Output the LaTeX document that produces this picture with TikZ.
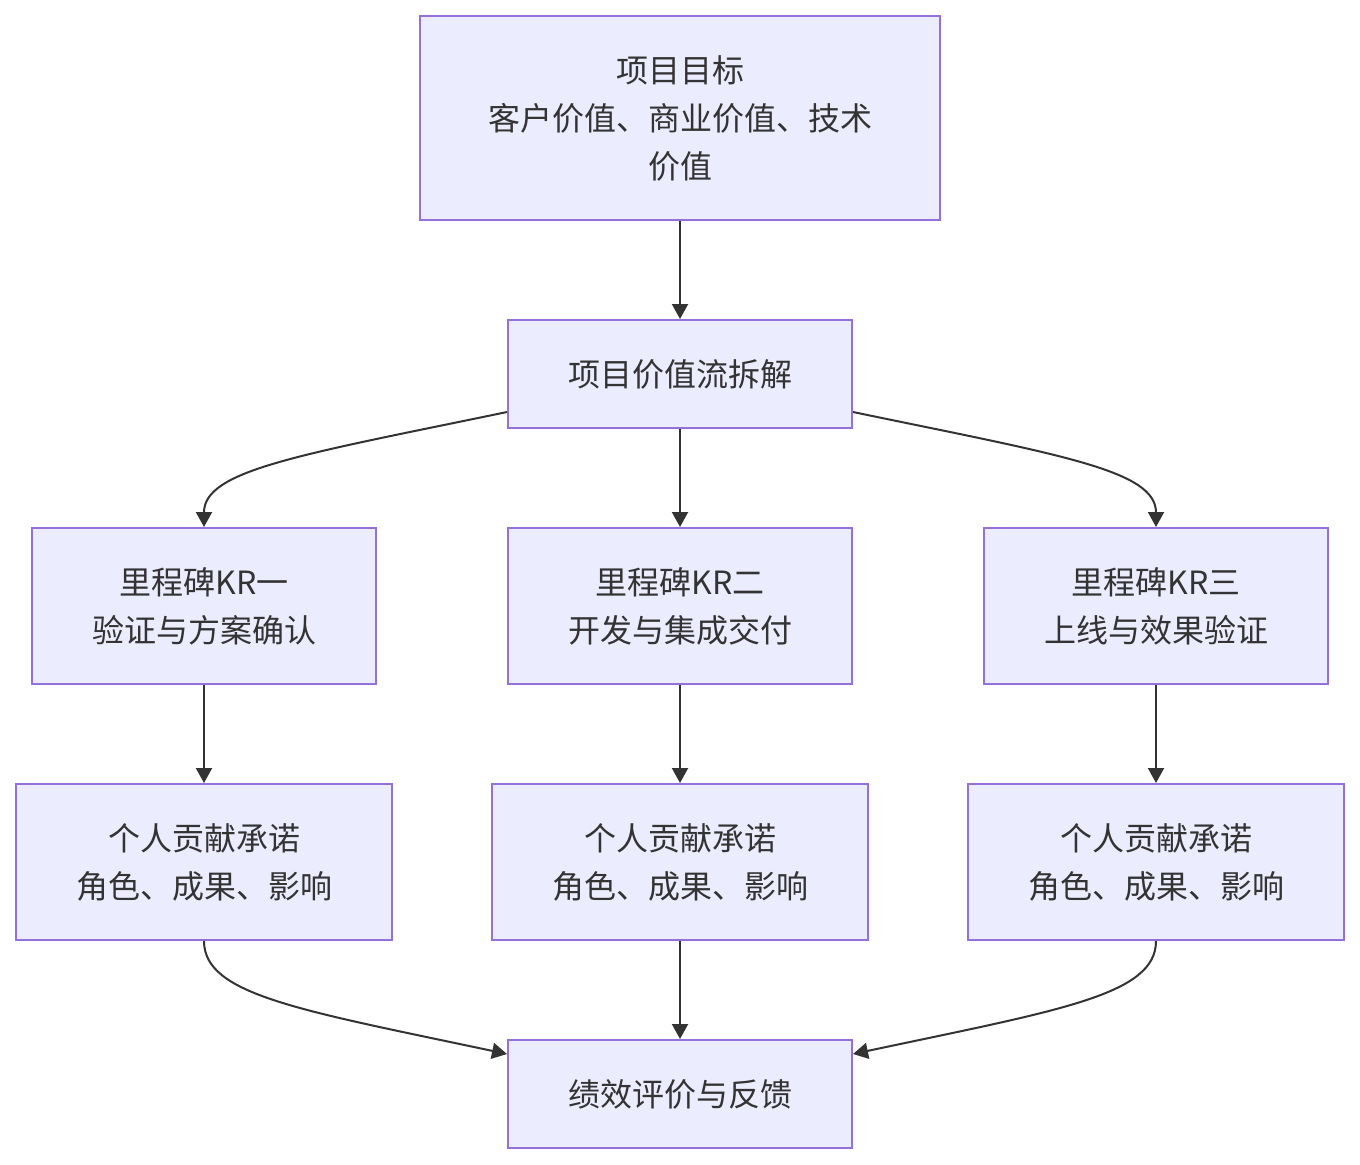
\documentclass[tikz,border=0pt]{standalone}
\usepackage{fontspec}
\setmainfont{Noto Sans CJK SC}
\usetikzlibrary{arrows.meta}
\definecolor{boxfill}{HTML}{ECECFF}
\definecolor{boxline}{HTML}{9370DB}
\definecolor{ink}{HTML}{333333}

\begin{document}
\begin{tikzpicture}[x=0.5pt,y=-0.5pt,>={Triangle[length=7.5pt,width=8pt]},
  box/.style={draw=boxline,line width=1pt,fill=boxfill,text=ink,align=center,inner sep=0pt,font=\fontsize{16}{24}\selectfont},
  link/.style={->,draw=ink,line width=1pt}]
\useasboundingbox (0,0) rectangle (1360,1164);
\node[box,minimum width=260pt,minimum height=102pt] (goal) at (680,118) {项目目标\\客户价值、商业价值、技术\\价值};
\node[box,minimum width=172pt,minimum height=54pt] (stream) at (680,374) {项目价值流拆解};
\node[box,minimum width=172pt,minimum height=78pt] (kr1) at (204,606) {里程碑KR一\\验证与方案确认};
\node[box,minimum width=172pt,minimum height=78pt] (kr2) at (680,606) {里程碑KR二\\开发与集成交付};
\node[box,minimum width=172pt,minimum height=78pt] (kr3) at (1156,606) {里程碑KR三\\上线与效果验证};
\node[box,minimum width=188pt,minimum height=78pt] (pc1) at (204,862) {个人贡献承诺\\角色、成果、影响};
\node[box,minimum width=188pt,minimum height=78pt] (pc2) at (680,862) {个人贡献承诺\\角色、成果、影响};
\node[box,minimum width=188pt,minimum height=78pt] (pc3) at (1156,862) {个人贡献承诺\\角色、成果、影响};
\node[box,minimum width=172pt,minimum height=54pt] (review) at (680,1094) {绩效评价与反馈};
\draw[link] (goal) -- (stream);
\draw[link] ([yshift=8.5pt]stream.south west) .. controls (300,455) and (204,470) .. (kr1.north);
\draw[link] (stream) -- (kr2);
\draw[link] ([yshift=8.5pt]stream.south east) .. controls (1060,455) and (1156,470) .. (kr3.north);
\draw[link] (kr1) -- (pc1);
\draw[link] (kr2) -- (pc2);
\draw[link] (kr3) -- (pc3);
\draw[link] (pc1.south) .. controls (204,995) and (300,1010) .. ([yshift=-7.5pt]review.north west);
\draw[link] (pc2) -- (review);
\draw[link] (pc3.south) .. controls (1156,995) and (1060,1010) .. ([yshift=-7.5pt]review.north east);
\end{tikzpicture}
\end{document}
